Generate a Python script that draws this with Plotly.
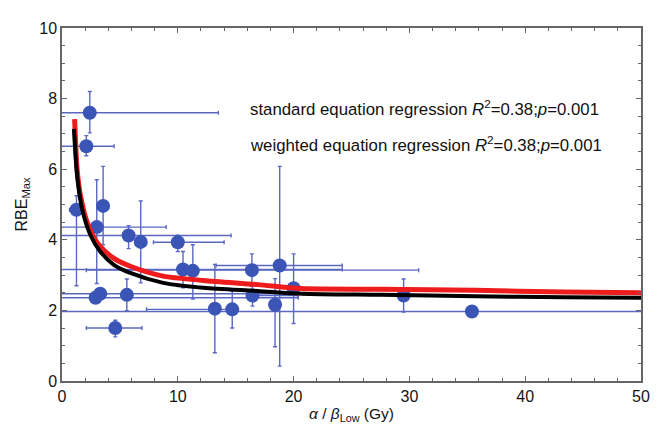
import plotly.graph_objects as go

# Data points (alpha/beta_low, RBE_max) with asymmetric error bars
ab_low = [2.4, 2.1, 1.25, 3.55, 3.0, 5.75, 6.8, 10.0, 10.45, 11.3, 16.4, 18.8, 20.0, 16.45, 18.4, 13.2, 14.7, 29.5, 35.4, 2.9, 3.3, 5.6, 4.6]
rbe_max = [7.6, 6.65, 4.85, 4.96, 4.36, 4.12, 3.94, 3.93, 3.16, 3.12, 3.14, 3.27, 2.63, 2.42, 2.16, 2.05, 2.03, 2.42, 1.97, 2.36, 2.47, 2.44, 1.5]
x_err_minus = [3.0, 2.6, 0.6, 0.0, 3.5, 6.5, 0.0, 2.1, 11.0, 0.0, 14.3, 5.5, 0.0, 0.0, 0.0, 0.0, 7.4, 0.0, 36.0, 3.5, 3.8, 0.0, 2.5]
x_err_plus = [11.1, 2.4, 0.6, 0.0, 6.0, 8.85, 0.0, 4.0, 13.75, 0.0, 14.4, 5.4, 0.0, 3.9, 0.0, 0.0, 0.0, 0.0, 16.0, 17.5, 17.6, 0.0, 2.3]
y_err_minus = [0.57, 0.27, 2.15, 1.1, 1.6, 0.37, 1.16, 0.26, 0.52, 0.8, 0.46, 2.85, 1.0, 0.3, 1.19, 1.25, 0.53, 0.47, 0.1, 0.15, 0.15, 0.45, 0.25]
y_err_plus = [0.6, 0.3, 0.4, 1.12, 1.34, 0.28, 1.16, 0.2, 0.51, 0.74, 0.46, 2.81, 0.97, 0.3, 0.74, 1.25, 0.52, 0.47, 0.1, 0.15, 0.15, 0.45, 0.22]

# Regression curves
std_x = [1.09, 1.31, 1.6, 2.17, 3.0, 4.45, 5.9, 8.74, 12.2, 16.9, 20.7, 27.6, 35.7, 43.4, 50]
std_y = [7.42, 5.98, 5.25, 4.5, 3.94, 3.48, 3.25, 2.97, 2.85, 2.73, 2.62, 2.6, 2.57, 2.52, 2.5]
wtd_x = [1.03, 1.31, 1.74, 2.46, 3.3, 4.45, 5.9, 8.74, 12.2, 16.9, 20.7, 27.6, 35.7, 43.4, 50]
wtd_y = [7.14, 5.8, 4.87, 4.13, 3.67, 3.3, 3.06, 2.78, 2.64, 2.55, 2.47, 2.44, 2.4, 2.37, 2.36]

x_ticks = [0, 10, 20, 30, 40, 50]
y_ticks = [0, 2, 4, 6, 8, 10]

FONT = "Liberation Sans, Arial"

fig = go.Figure()

fig.add_trace(go.Scatter(
    x=ab_low, y=rbe_max, mode="markers",
    marker=dict(size=14, color="#3a55b6"),
    error_x=dict(type="data", symmetric=False, array=x_err_plus, arrayminus=x_err_minus,
                 color="#5b68c2", thickness=1.4, width=2),
    error_y=dict(type="data", symmetric=False, array=y_err_plus, arrayminus=y_err_minus,
                 color="#5b68c2", thickness=1.4, width=2),
    showlegend=False,
))

fig.add_trace(go.Scatter(
    x=std_x, y=std_y, mode="lines",
    line=dict(color="#ee1c1c", width=5, shape="spline", smoothing=0.8),
    showlegend=False,
))
fig.add_trace(go.Scatter(
    x=wtd_x, y=wtd_y, mode="lines",
    line=dict(color="#000000", width=4, shape="spline", smoothing=0.8),
    showlegend=False,
))

fig.add_annotation(x=16.1, y=7.72, xref="x", yref="y", xanchor="left", yanchor="middle",
                   text="standard equation regression <i>R</i><sup>2</sup>=0.38;<i>p</i>=0.001",
                   showarrow=False, font=dict(size=16.8, color="#111111", family=FONT))
fig.add_annotation(x=16.1, y=6.72, xref="x", yref="y", xanchor="left", yanchor="middle",
                   text="weighted equation regression <i>R</i><sup>2</sup>=0.38;<i>p</i>=0.001",
                   showarrow=False, font=dict(size=16.8, color="#111111", family=FONT))

axis_common = dict(
    showline=True, linecolor="#666666", linewidth=1.5, mirror="ticks",
    ticks="inside", ticklen=5, tickcolor="#666666", showgrid=False, zeroline=False,
    tickfont=dict(size=16, color="#151515", family=FONT),
)

fig.update_xaxes(range=[0, 50], tickvals=x_ticks, ticktext=[str(v) for v in x_ticks],
                 minor=dict(dtick=2, ticks="inside", ticklen=3, tickcolor="#666666"),
                 title=dict(text="<i>α</i> / <i>β</i><sub>Low</sub> (Gy)", standoff=4,
                            font=dict(size=15.5, color="#151515", family=FONT)),
                 **axis_common)
fig.update_yaxes(range=[0, 10], tickvals=y_ticks, ticktext=[str(v) for v in y_ticks],
                 minor=dict(dtick=0.5, ticks="inside", ticklen=3, tickcolor="#666666"),
                 title=dict(text="RBE<sub>Max</sub>", standoff=8,
                            font=dict(size=16, color="#151515", family=FONT)),
                 **axis_common)

fig.update_layout(
    width=662, height=424,
    margin=dict(l=50, r=29, t=14, b=50),
    paper_bgcolor="white", plot_bgcolor="white",
)

fig.write_html("out.html")
